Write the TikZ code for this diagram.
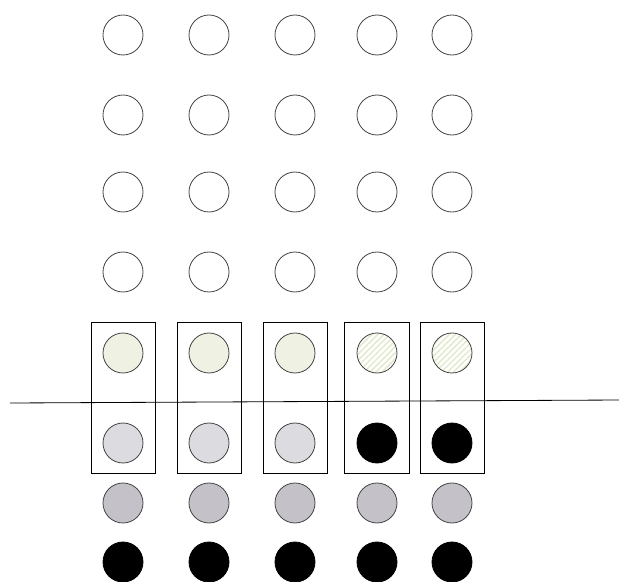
\documentclass[tikz,border=0pt]{standalone}
\usepackage{xcolor}
\usetikzlibrary{positioning,fit,patterns.meta}
\definecolor{ringgray}{RGB}{70,70,70}
\definecolor{palegreen}{RGB}{239,242,227}
\definecolor{hatchgreen}{RGB}{226,234,206}
\definecolor{palegray}{RGB}{220,219,224}
\definecolor{midgray}{RGB}{196,194,200}

\begin{document}
\begin{tikzpicture}[x=0.03cm,y=-0.03cm,
  dot/.style={circle,draw=ringgray,line width=0.7pt,minimum size=1.2cm,inner sep=0pt},
  cellbox/.style={draw,line width=0.7pt,inner xsep=0.35cm,inner ysep=0.3cm}]
\useasboundingbox (0,0) rectangle (619,581);
\foreach \c/\x in {1/123,2/209,3/295,4/377,5/452}{
  \foreach \r/\y in {1/35,2/115,3/192,4/272}
    \node[dot] (c\r\c) at (\x,\y) {};
  \node[dot,fill=midgray] (c7\c) at (\x,503) {};
  \node[dot,fill=black,draw=black] (c8\c) at (\x,562) {};}
\foreach \c/\x in {1/123,2/209,3/295}{
  \node[dot,fill=palegreen] (c5\c) at (\x,353) {};
  \node[dot,fill=palegray] (c6\c) at (\x,443) {};}
\foreach \c/\x in {4/377,5/452}{
  \node[dot,pattern={Lines[angle=45,distance=3.6pt,line width=1.3pt]},pattern color=hatchgreen] (c5\c) at (\x,353) {};
  \node[dot,fill=black,draw=black] (c6\c) at (\x,443) {};}
\foreach \c in {1,...,5}
  \node[cellbox,fit=(c5\c)(c6\c)] (box\c) {};
\coordinate (cutL) at (10,403);
\coordinate (cutR) at (619,400);
\draw[line width=0.7pt] (cutL) -- (cutR);
\end{tikzpicture}
\end{document}
